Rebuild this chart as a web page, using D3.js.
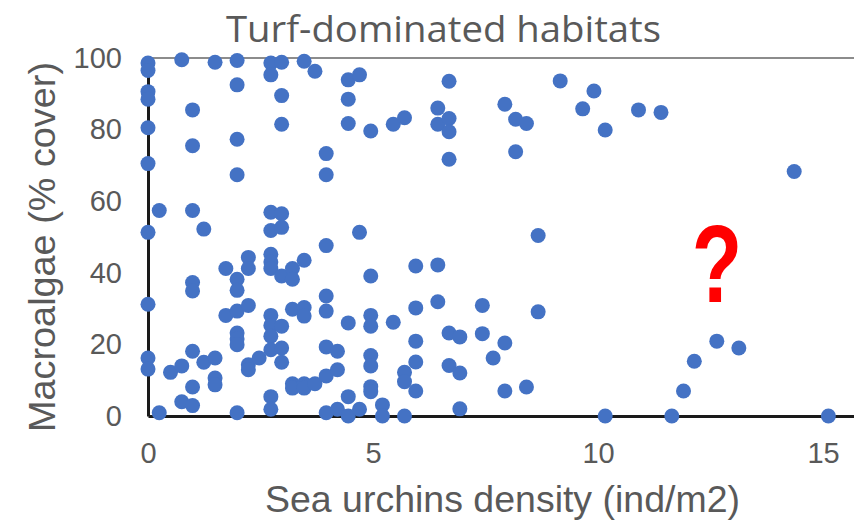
<!DOCTYPE html>
<html>
<head>
<meta charset="utf-8">
<script src="https://cdn.jsdelivr.net/npm/d3@7"></script>
<style>
  html, body { margin: 0; padding: 0; background: #fff; }
  svg { display: block; }
</style>
</head>
<body>
<div id="chart"></div>
<script>
// Sea urchin density (ind/m2) and macroalgae cover (%) per survey site
const urchinDensity = [
  0, 0, 0, 0, 0, 0, 0, 0, 0, 0,
  0.25, 0.25,
  0.5,
  0.75, 0.75, 0.75,
  0.99, 0.99, 0.99, 0.99, 0.99, 0.99, 0.99, 0.99,
  1.24, 1.24,
  1.49, 1.49, 1.49, 1.49,
  1.73, 1.73,
  1.98, 1.98, 1.98, 1.98, 1.98, 1.98, 1.98, 1.98, 1.98, 1.98, 1.98,
  2.23, 2.23, 2.23, 2.23, 2.23,
  2.47,
  2.73, 2.73, 2.73, 2.73, 2.73, 2.73, 2.73, 2.73, 2.73, 2.73, 2.73, 2.73, 2.73,
  2.97, 2.97, 2.97, 2.97, 2.97, 2.97, 2.97, 2.97, 2.97,
  3.21, 3.21, 3.21, 3.21, 3.21,
  3.47, 3.47, 3.47, 3.47, 3.47, 3.47,
  3.71, 3.71,
  3.96, 3.96, 3.96, 3.96, 3.96, 3.96, 3.96, 3.96,
  4.21, 4.21, 4.21,
  4.45, 4.45, 4.45, 4.45, 4.45, 4.45,
  4.70, 4.70, 4.70,
  4.95, 4.95, 4.95, 4.95, 4.95, 4.95, 4.95, 4.95,
  5.21, 5.21,
  5.45, 5.45,
  5.70, 5.70, 5.70, 5.70,
  5.95, 5.95, 5.95, 5.95, 5.95,
  6.44, 6.44, 6.44, 6.44,
  6.69, 6.69, 6.69, 6.69, 6.69, 6.69,
  6.93, 6.93, 6.93,
  7.43, 7.43,
  7.67,
  7.93, 7.93, 7.93,
  8.17, 8.17,
  8.41, 8.41,
  8.67, 8.67,
  9.16,
  9.66,
  9.91,
  10.16, 10.16,
  10.9,
  11.4,
  11.64,
  11.9,
  12.14,
  12.64,
  13.13,
  14.36,
  15.12
];

const macroalgaeCover = [
  98.6, 96.5, 90.6, 88.5, 80.5, 70.5, 51.3, 31.2, 16.2, 13.1,
  57.4, 0.9,
  12.2,
  99.5, 14.0, 4.0,
  85.5, 75.5, 57.4, 37.3, 34.9, 18.1, 8.1, 2.9,
  52.2, 15.0,
  98.8, 16.2, 10.6, 8.7,
  41.2, 28.1,
  99.3, 92.5, 77.3, 67.4, 38.2, 35.1, 29.3, 23.2, 21.5, 19.9, 0.9,
  44.3, 41.2, 30.9, 14.3, 12.9,
  16.2,
  98.6, 95.3, 56.9, 51.8, 45.2, 43.0, 41.2, 28.1, 25.3, 22.3, 18.5, 5.4, 1.9,
  98.8, 89.5, 81.5, 56.5, 52.7, 39.1, 25.1, 19.0, 15.0,
  41.2, 38.2, 29.8, 9.0, 7.8,
  99.1, 43.5, 30.3, 27.9, 9.0, 7.8,
  96.3, 9.0,
  73.3, 67.4, 47.6, 33.5, 29.3, 19.3, 11.2, 0.9,
  18.1, 12.9, 1.9,
  93.9, 88.5, 81.7, 26.0, 5.4, 0,
  95.3, 51.3, 1.9,
  79.6, 39.1, 28.1, 25.1, 16.9, 14.0, 8.2, 6.8,
  3.1, 0,
  81.5, 26.2,
  83.3, 12.2, 9.6, 0,
  41.9, 30.2, 20.9, 15.1, 7.0,
  86.0, 81.5, 42.2, 31.9,
  93.5, 83.1, 79.4, 71.7, 23.2, 14.1,
  22.1, 12.0, 2.0,
  30.9, 23.0,
  16.2,
  87.1, 20.4, 7.0,
  82.9, 73.8,
  81.7, 8.1,
  50.4, 29.1,
  93.6,
  85.8,
  90.8,
  79.9, 0,
  85.5,
  84.8,
  0,
  7.0,
  15.3,
  20.9,
  19.0,
  68.3,
  0
];

const xTicks = [0, 5, 10, 15];
const yTicks = [0, 20, 40, 60, 80, 100];

const chartTitle = "Turf-dominated habitats";
const xTitle = "Sea urchins density (ind/m2)";
const yTitle = "Macroalgae (% cover)";

const width = 854, height = 522;
const textColor = "#595959";
const dotColor = "#4472C4";

const svg = d3.select("#chart").append("svg")
  .attr("width", width)
  .attr("height", height)
  .style("font-family", "'Liberation Sans', Arial, sans-serif");

const x = d3.scaleLinear().domain([0, 16]).range([148, 868]);
const y = d3.scaleLinear().domain([0, 100]).range([416, 58]);

// top reference line at 100%
svg.append("line")
  .attr("x1", x(0)).attr("x2", width)
  .attr("y1", y(100)).attr("y2", y(100))
  .attr("stroke", "#8c8c8c").attr("stroke-width", 2);

// x axis
const xAxis = svg.append("g")
  .attr("transform", `translate(0,${y(0)})`)
  .call(d3.axisBottom(x).tickValues(xTicks).tickSize(0).tickSizeOuter(0).tickPadding(26));
xAxis.select(".domain").attr("stroke", "#1a1a1a").attr("stroke-width", 3);
xAxis.selectAll("text")
  .attr("fill", textColor)
  .style("font-size", "29px")
  .style("font-family", "'Liberation Sans', Arial, sans-serif");

// y axis
const yAxis = svg.append("g")
  .attr("transform", `translate(${x(0)},0)`)
  .call(d3.axisLeft(y).tickValues(yTicks).tickSize(0).tickSizeOuter(0).tickPadding(26));
yAxis.select(".domain").attr("stroke", "#1a1a1a").attr("stroke-width", 3);
yAxis.selectAll("text")
  .attr("fill", textColor)
  .style("font-size", "29px")
  .style("font-family", "'Liberation Sans', Arial, sans-serif");

// points
const points = urchinDensity.map((d, i) => ({ x: d, y: macroalgaeCover[i] }));
svg.append("g")
  .selectAll("circle")
  .data(points)
  .join("circle")
  .attr("cx", d => x(d.x))
  .attr("cy", d => y(d.y))
  .attr("r", 7.5)
  .attr("fill", dotColor);

// title
svg.append("text")
  .attr("x", 226).attr("y", 42)
  .attr("textLength", 435)
  .attr("lengthAdjust", "spacingAndGlyphs")
  .attr("fill", textColor)
  .style("font-family", "'Open Sans', 'Noto Sans', sans-serif")
  .style("font-size", "37px")
  .text(chartTitle);

// axis titles
svg.append("text")
  .attr("x", 265).attr("y", 512)
  .attr("textLength", 475)
  .attr("lengthAdjust", "spacingAndGlyphs")
  .attr("fill", textColor)
  .style("font-size", "36px")
  .text(xTitle);

svg.append("text")
  .attr("transform", "translate(55,432) rotate(-90)")
  .attr("x", 0).attr("y", 0)
  .attr("textLength", 370)
  .attr("lengthAdjust", "spacingAndGlyphs")
  .attr("fill", textColor)
  .style("font-size", "36px")
  .text(yTitle);

// question mark annotation
svg.append("text")
  .attr("transform", "translate(717,302) scale(0.75,1)")
  .attr("text-anchor", "middle")
  .attr("fill", "#ff0000")
  .style("font-weight", "bold")
  .style("font-size", "110px")
  .text("?");
</script>
</body>
</html>
